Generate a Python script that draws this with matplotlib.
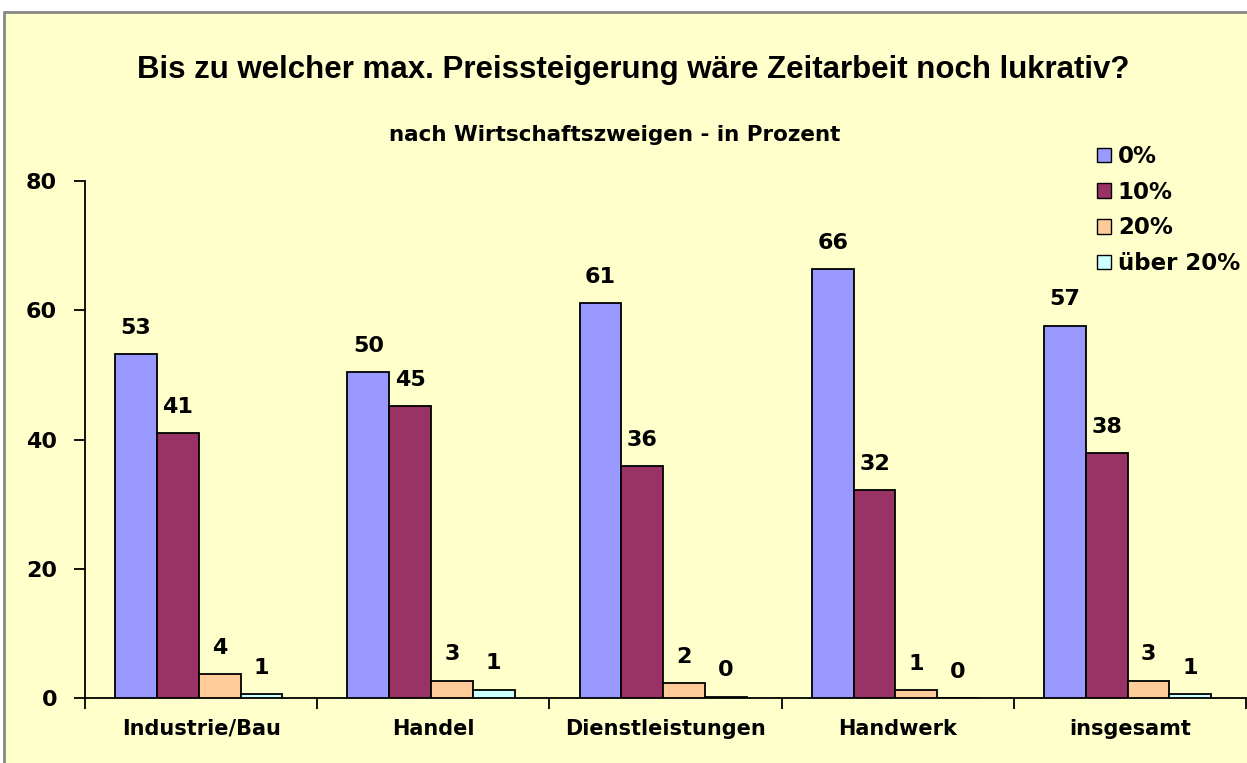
import matplotlib
matplotlib.use("Agg")
import matplotlib.pyplot as plt
import numpy as np
from matplotlib.patches import Rectangle

categories = ["Industrie/Bau", "Handel", "Dienstleistungen", "Handwerk", "insgesamt"]
series_names = ["0%", "10%", "20%", "über 20%"]
v0 = [53.2, 50.4, 61.1, 66.4, 57.6]
v10 = [41.0, 45.2, 35.9, 32.2, 37.9]
v20 = [3.7, 2.7, 2.3, 1.2, 2.7]
v20plus = [0.6, 1.3, 0.2, 0.0, 0.6]
labels0 = ["53", "50", "61", "66", "57"]
labels10 = ["41", "45", "36", "32", "38"]
labels20 = ["4", "3", "2", "1", "3"]
labels20plus = ["1", "1", "0", "0", "1"]
yticks = [0, 20, 40, 60, 80]

series = [v0, v10, v20, v20plus]
series_labels = [labels0, labels10, labels20, labels20plus]
colors = ["#9999FF", "#993366", "#FFCC99", "#CCFFFF"]
bg = "#FFFFCC"

plt.rcParams['font.family'] = ['DejaVu Sans']
plt.rcParams['font.weight'] = 'bold'

fig = plt.figure(figsize=(12.47, 7.63), dpi=100)
fig.patch.set_facecolor("white")
fig.patches.append(Rectangle((4/1247, -0.01), 1.0, 1.01 - 12/763, transform=fig.transFigure,
                             facecolor=bg, edgecolor="#888888", linewidth=2, zorder=-10))

ax = fig.add_axes([85/1247, 1 - 698/763, (1246 - 85)/1247, (698 - 181)/763])
ax.set_facecolor("none")

n = len(categories)
x = np.arange(n)
bw = 0.18
offsets = (np.arange(4) - 1.5) * bw - 0.01
for i, (vals, labs) in enumerate(zip(series, series_labels)):
    ax.bar(x + offsets[i], vals, width=bw, color=colors[i], edgecolor="black",
           linewidth=1.3, label=series_names[i], zorder=3)
    for xi, v, lab in zip(x + offsets[i], vals, labs):
        ax.annotate(lab, (xi, v), xytext=(0, 19), textcoords="offset points",
                    ha="center", va="center", fontsize=16, fontweight="bold")

ax.set_xlim(-0.5, n - 0.5)
ax.set_ylim(0, 80)
ax.set_yticks(yticks)
ax.set_yticklabels([str(t) for t in yticks], fontsize=16, fontweight="bold")
ax.set_xticks(np.arange(n + 1) - 0.5, minor=False)
ax.set_xticklabels([])
ax.set_xticks(x, minor=True)
ax.set_xticklabels(categories, minor=True, fontsize=15, fontweight="bold")
ax.tick_params(axis="x", which="minor", length=0, pad=15)
ax.tick_params(axis="x", which="major", length=8, width=1.3, direction="out")
ax.tick_params(axis="y", length=8, width=1.3, direction="out", pad=12)
for s in ["top", "right"]:
    ax.spines[s].set_visible(False)
for s in ["left", "bottom"]:
    ax.spines[s].set_linewidth(1.3)

fig.text(633/1247, 1 - 70/763, "Bis zu welcher max. Preissteigerung wäre Zeitarbeit noch lukrativ?",
         ha="center", va="center", fontsize=22.5, fontweight="bold", family="Liberation Sans")
fig.text(615/1247, 1 - 135/763, "nach Wirtschaftszweigen - in Prozent",
         ha="center", va="center", fontsize=15.5, fontweight="bold")

leg = fig.legend(loc="upper left", bbox_to_anchor=(1088/1247, 1 - 136/763),
                 frameon=False, prop={"weight": "bold", "size": 16.5},
                 handlelength=0.6, handleheight=0.6, handletextpad=0.3,
                 labelspacing=0.55, borderaxespad=0)
for h in leg.legend_handles:
    h.set_linewidth(1.0)

fig.savefig("out.png", dpi=100, facecolor=fig.get_facecolor())
